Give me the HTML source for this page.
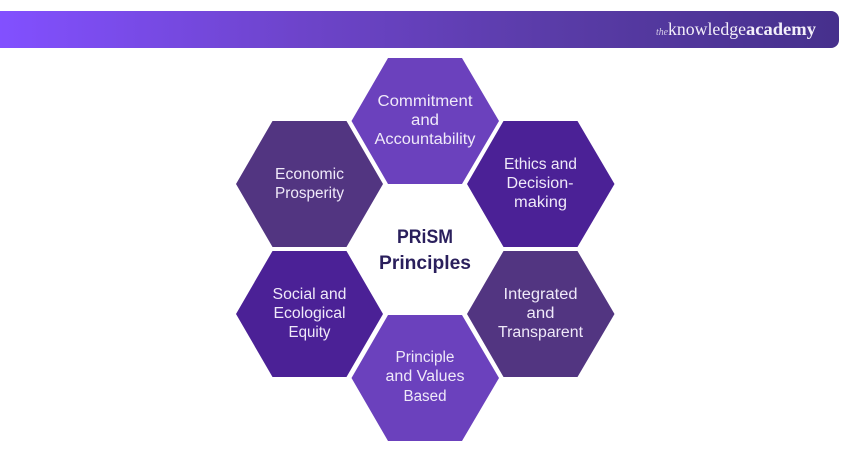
<!DOCTYPE html>
<html><head><meta charset="utf-8"><style>
html,body{margin:0;padding:0;background:#fff}
svg{display:block}
.t{font-family:"Liberation Sans",sans-serif;font-size:15.5px;fill:#efe9f9;text-anchor:middle}
.h{font-family:"Liberation Sans",sans-serif;font-size:19px;font-weight:bold;fill:#2a1f5c;text-anchor:middle}
.l{font-family:"Liberation Serif",serif;fill:#f3effa}
</style></head><body>
<svg width="850" height="450" viewBox="0 0 850 450" xmlns="http://www.w3.org/2000/svg">
<defs><linearGradient id="g" x1="0" x2="1" y1="0" y2="0"><stop offset="0" stop-color="#8250ff"/><stop offset="0.36" stop-color="#6d44ca"/><stop offset="0.655" stop-color="#5a3ca8"/><stop offset="1" stop-color="#46308c"/></linearGradient></defs>
<path d="M0 11H831a8 8 0 0 1 8 8V40a8 8 0 0 1-8 8H0Z" fill="url(#g)"/>
<text class="l" x="656" y="35" font-size="11" font-style="italic" textLength="12" lengthAdjust="spacingAndGlyphs" opacity=".8">the</text>
<text class="l" x="668" y="35" font-size="17.5" textLength="78" lengthAdjust="spacingAndGlyphs">knowledge</text>
<text class="l" x="746" y="35" font-size="17.5" font-weight="bold" textLength="70" lengthAdjust="spacingAndGlyphs">academy</text>

<polygon points="388,58 462,58 499,121 462,184 388,184 351.5,121" fill="#6b41bd"/>
<polygon points="272.5,121 346.5,121 383,184 346.5,247 272.5,247 236,184" fill="#523581"/>
<polygon points="503.5,121 577.5,121 614.5,184 577.5,247 503.5,247 467,184" fill="#4b2196"/>
<polygon points="272.5,251 346.5,251 383,314 346.5,377 272.5,377 236,314" fill="#4b2196"/>
<polygon points="503.5,251 577.5,251 614.5,314 577.5,377 503.5,377 467,314" fill="#523581"/>
<polygon points="388,315 462,315 499,378 462,441 388,441 351.5,378" fill="#6b41bd"/>

<text class="t" x="425" y="106" textLength="95" lengthAdjust="spacingAndGlyphs">Commitment</text>
<text class="t" x="425" y="125" textLength="28" lengthAdjust="spacingAndGlyphs">and</text>
<text class="t" x="425" y="144" textLength="101" lengthAdjust="spacingAndGlyphs">Accountability</text>

<text class="t" x="309.5" y="179" textLength="69" lengthAdjust="spacingAndGlyphs">Economic</text>
<text class="t" x="309.5" y="198" textLength="69" lengthAdjust="spacingAndGlyphs">Prosperity</text>

<text class="t" x="540.5" y="169" textLength="73" lengthAdjust="spacingAndGlyphs">Ethics and</text>
<text class="t" x="540" y="188" textLength="67" lengthAdjust="spacingAndGlyphs">Decision-</text>
<text class="t" x="540.5" y="207" textLength="53" lengthAdjust="spacingAndGlyphs">making</text>

<text class="t" x="309.5" y="299" textLength="74" lengthAdjust="spacingAndGlyphs">Social and</text>
<text class="t" x="309.5" y="318" textLength="72" lengthAdjust="spacingAndGlyphs">Ecological</text>
<text class="t" x="309.5" y="337" textLength="42" lengthAdjust="spacingAndGlyphs">Equity</text>

<text class="t" x="540.5" y="299" textLength="74" lengthAdjust="spacingAndGlyphs">Integrated</text>
<text class="t" x="540.5" y="318" textLength="28" lengthAdjust="spacingAndGlyphs">and</text>
<text class="t" x="540.5" y="337" textLength="85" lengthAdjust="spacingAndGlyphs">Transparent</text>

<text class="t" x="425" y="362" textLength="59" lengthAdjust="spacingAndGlyphs">Principle</text>
<text class="t" x="425" y="381" textLength="79" lengthAdjust="spacingAndGlyphs">and Values</text>
<text class="t" x="425" y="401" textLength="43" lengthAdjust="spacingAndGlyphs">Based</text>

<text class="h" x="425" y="243" textLength="56" lengthAdjust="spacingAndGlyphs">PRiSM</text>
<text class="h" x="425" y="269" textLength="92" lengthAdjust="spacingAndGlyphs">Principles</text>
</svg>
</body></html>
